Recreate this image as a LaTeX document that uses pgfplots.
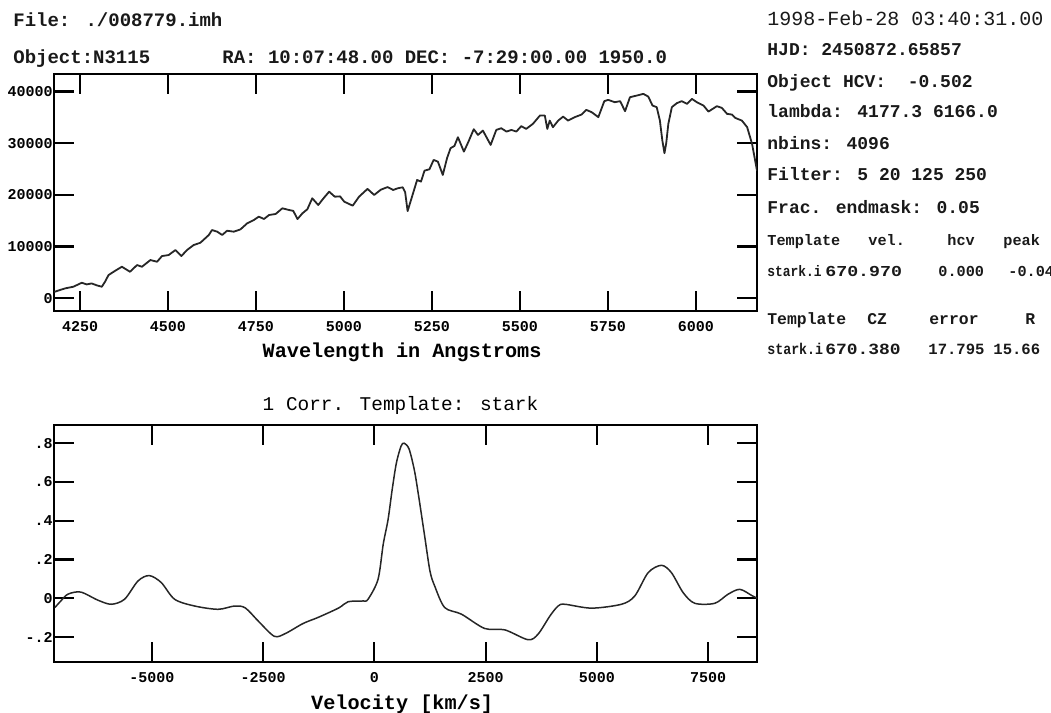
\documentclass[border=0pt]{standalone}
\usepackage{fontspec}
\usepackage{graphicx}
\usepackage{pgfplots}
\pgfplotsset{compat=1.18}
\newfontfamily\mono{Liberation Mono}
\newcommand\fs[1]{\fontsize{#1}{#1}\selectfont}

% spectrum: wavelength (Angstrom) vs counts
\newcommand\spectrum{
(4177,1200) (4190,1500) (4207,1870) (4231,2200) (4255,2970) (4269,2650)
(4283,2840) (4298,2460) (4312,2200) (4321,3170) (4331,4460) (4350,5300)
(4369,6070) (4392,5100) (4412,6400) (4426,6070) (4450,7370) (4469,7040)
(4483,8140) (4502,8340) (4521,9310) (4538,8140) (4554,9310) (4573,10280)
(4592,10720) (4616,12220) (4625,13180) (4640,12860) (4654,12220) (4668,13050)
(4687,12860) (4706,13310) (4725,14480) (4744,15120) (4758,15770) (4773,15320)
(4787,16090) (4806,16290) (4825,17390) (4844,17060) (4856,16900) (4868,15300)
(4882,16420) (4896,17200) (4910,19330) (4927,18030) (4942,19330) (4958,20610)
(4974,19640) (4989,19700) (5001,18670) (5025,17900) (5043,19640) (5067,21150)
(5086,19970) (5105,21000) (5124,21500) (5140,20940) (5153,21270) (5167,21460)
(5174,20500) (5181,16850) (5195,19970) (5208,22880) (5219,22550) (5229,24680)
(5243,24950) (5255,26760) (5267,26430) (5281,23850) (5293,27090) (5303,29030)
(5314,29470) (5324,31160) (5341,28370) (5354,30310) (5369,32710) (5381,31600)
(5395,32440) (5417,29670) (5433,32570) (5447,32900) (5462,32250) (5476,32570)
(5490,32250) (5504,33300) (5518,32770) (5537,33740) (5557,35350) (5571,35350)
(5578,32770) (5585,34380) (5594,33100) (5609,34380) (5623,35150) (5637,34380)
(5656,35040) (5675,35540) (5689,36450) (5704,36010) (5723,35040) (5740,38140)
(5751,38390) (5770,37940) (5785,38140) (5799,36200) (5813,38910) (5832,39220)
(5851,39550) (5865,39030) (5877,37290) (5889,36980) (5898,34380) (5905,30500)
(5911,28060) (5916,30000) (5922,33740) (5932,36980) (5946,37750) (5960,38140)
(5975,37620) (5989,38580) (6003,37940) (6022,37290) (6036,36120) (6060,37170)
(6074,36840) (6089,35680) (6103,35540) (6112,34900) (6131,34380) (6146,33100)
(6160,29860) (6174,24680)}

% cross-correlation: velocity (km/s) vs correlation
\newcommand\correlation{
(-7180,-0.048) (-7050,-0.015) (-6887,0.021) (-6600,0.032) (-6212,-0.010)
(-5913,-0.031) (-5614,-0.005) (-5313,0.089) (-5060,0.117) (-4789,0.081)
(-4490,-0.005) (-4040,-0.040) (-3514,-0.057) (-3141,-0.040) (-2900,-0.050)
(-2600,-0.120) (-2250,-0.196) (-2000,-0.182) (-1600,-0.130) (-1266,-0.099)
(-800,-0.050) (-591,-0.018) (-254,-0.014) (-142,-0.005) (83,0.098)
(200,0.280) (308,0.406) (400,0.560) (495,0.698) (600,0.785) (670,0.800)
(780,0.770) (900,0.660) (1000,0.520) (1131,0.320) (1250,0.140) (1356,0.063)
(1581,-0.048) (1956,-0.082) (2480,-0.156) (2930,-0.163) (3455,-0.214)
(3680,-0.185) (3950,-0.090) (4130,-0.040) (4280,-0.031) (4879,-0.051)
(5553,-0.031) (5853,0.012) (6153,0.132) (6452,0.170) (6677,0.132)
(6940,0.029) (7201,-0.026) (7650,-0.026) (7950,0.021) (8213,0.046)
(8476,0.015) (8600,0.000)}

\pgfplotsset{
  plotframe/.style={
    anchor=north west, scale only axis,
    width=351.5pt, height=118.5pt,
    axis line style={line width=1.1pt, black},
    tick style={line width=1.1pt, black},
    major tick length=10pt, tick align=inside,
    scaled ticks=false,
    xticklabel style={font=\mono\bfseries\fs{7.5}, anchor=north, inner sep=0pt, yshift=-5pt},
    yticklabel style={font=\mono\bfseries\fs{7.5}, anchor=east, inner sep=0pt, xshift=-0.5pt},
    xlabel style={font=\mono\bfseries\fs{10.1}, at={(axis description cs:0.5,0)}, anchor=base, inner sep=0pt, yshift=-23.3pt, xshift=-1.7pt},
  }
}

\begin{document}
\begin{tikzpicture}
\useasboundingbox (0,0) rectangle (525.5pt,-356.5pt);

% header
\begin{scope}[every node/.style={anchor=base west, inner sep=0pt, text=black!90}]
\node[font=\mono\bfseries\fs{9.5}] at (6.5pt,-13pt) {File: ./008779.imh};
\node[font=\mono\bfseries\fs{9.5}] at (6.5pt,-31.5pt) {Object:N3115};
\node[font=\mono\bfseries\fs{9.5}] at (111pt,-31.5pt) {RA: 10:07:48.00 DEC: -7:29:00.00 1950.0};

% parameter panel
\node[font=\mono\fs{10}] at (383.5pt,-12.5pt) {1998-Feb-28 03:40:31.00};
\node[font=\mono\bfseries\fs{9}] at (383.5pt,-27.85pt) {HJD: 2450872.65857};
\node[font=\mono\bfseries\fs{9}] at (383.5pt,-43.65pt) {Object HCV:\ \ -0.502};
\node[font=\mono\bfseries\fs{9}] at (383.5pt,-58.65pt) {lambda: 4177.3 6166.0};
\node[font=\mono\bfseries\fs{9}] at (383.5pt,-74.65pt) {nbins: 4096};
\node[font=\mono\bfseries\fs{9}] at (383.5pt,-90pt) {Filter: 5 20 125 250};
\node[font=\mono\bfseries\fs{9}] at (383.5pt,-106.65pt) {Frac. endmask: 0.05};

\node[font=\mono\bfseries\fs{7.6}] at (383.5pt,-122.5pt) {Template};
\node[font=\mono\bfseries\fs{7.6}] at (434pt,-122.5pt) {vel.};
\node[font=\mono\bfseries\fs{7.6}] at (473.5pt,-122.5pt) {hcv};
\node[font=\mono\bfseries\fs{7.6}] at (501.5pt,-122.5pt) {peak};

\node at (383.5pt,-138pt) {\scalebox{0.85}[1]{\mono\bfseries\fs{7.6}stark.i}};
\node at (412.5pt,-138pt) {\scalebox{1.2}[1]{\mono\bfseries\fs{7.6}670.970}};
\node[font=\mono\bfseries\fs{7.6}] at (469pt,-138pt) {0.000};
\node[font=\mono\bfseries\fs{7.6}] at (504pt,-138pt) {-0.04};

\node[font=\mono\bfseries\fs{8.2}] at (383.5pt,-162pt) {Template};
\node[font=\mono\bfseries\fs{8.2}] at (433.5pt,-162pt) {CZ};
\node[font=\mono\bfseries\fs{8.2}] at (464.5pt,-162pt) {error};
\node[font=\mono\bfseries\fs{8.2}] at (512.5pt,-162pt) {R};

\node at (383.5pt,-177pt) {\scalebox{0.85}[1]{\mono\bfseries\fs{7.8}stark.i}};
\node at (412.5pt,-177pt) {\scalebox{1.15}[1]{\mono\bfseries\fs{7.8}670.380}};
\node[font=\mono\bfseries\fs{7.8}] at (464pt,-177pt) {17.795};
\node[font=\mono\bfseries\fs{7.8}] at (496.5pt,-177pt) {15.66};
\end{scope}

% observed spectrum
\begin{axis}[plotframe,
  at={(27pt,-37pt)},
  xmin=4176, xmax=6174, ymin=-2500, ymax=43400,
  xtick={4250,4500,4750,5000,5250,5500,5750,6000},
  xticklabels={4250,4500,4750,5000,5250,5500,5750,6000},
  ytick={0,10000,20000,30000,40000},
  yticklabels={0\hspace{3.5pt},10000,20000,30000,40000},
  xlabel={Wavelength in Angstroms},
]
\addplot[line width=0.9pt, black!85, line join=round, mark=none] coordinates {\spectrum};
\end{axis}

% correlation function
\begin{axis}[plotframe,
  at={(27pt,-212.5pt)},
  xmin=-7200, xmax=8600, ymin=-0.329, ymax=0.894,
  xtick={-5000,-2500,0,2500,5000,7500},
  xticklabels={-5000,-2500,0,2500,5000,7500},
  ytick={-0.2,0,0.2,0.4,0.6,0.8},
  yticklabels={-.2,0\hspace{3.5pt},.2,.4,.6,.8},
  xlabel={Velocity [km/s]},
  xlabel style={yshift=-0.5pt},
  title={1 Corr. Template: stark},
  title style={font=\mono\fs{9.7}, at={(axis description cs:0.5,1)}, anchor=base, inner sep=0pt, yshift=1.5pt, xshift=-2.5pt},
]
\addplot[line width=0.75pt, black!85, smooth, mark=none] coordinates {\correlation};
\end{axis}
\end{tikzpicture}
\end{document}
